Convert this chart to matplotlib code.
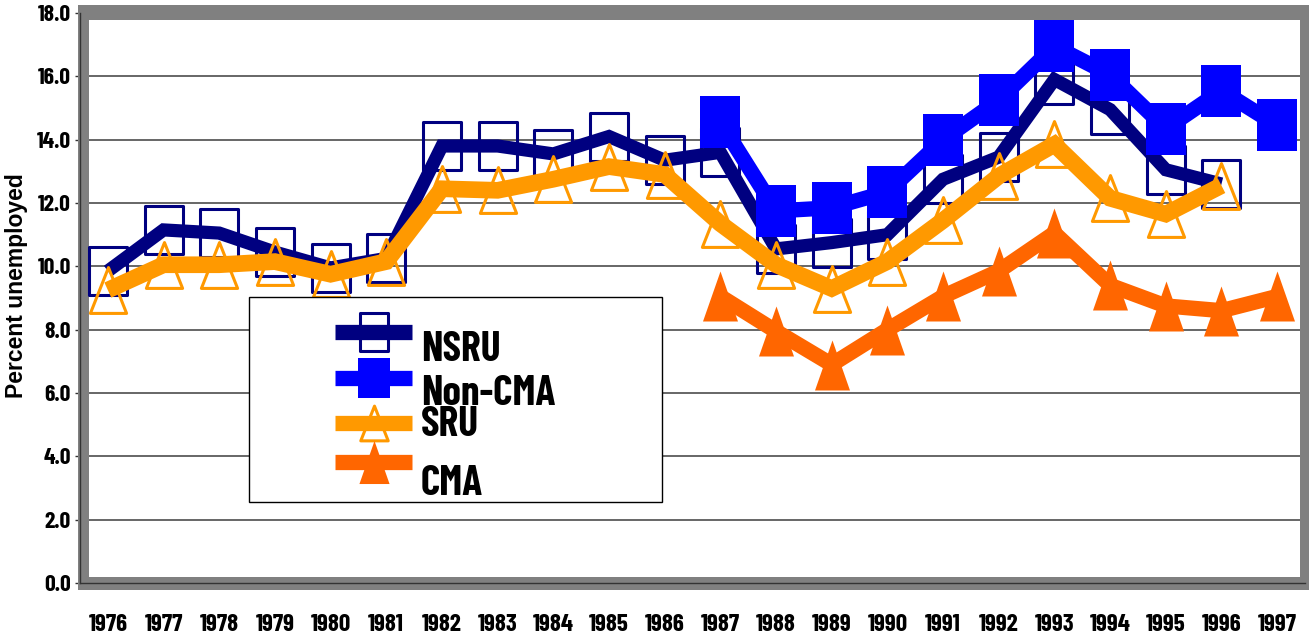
import numpy as np
import matplotlib
matplotlib.use("Agg")
import matplotlib.pyplot as plt
from matplotlib.path import Path
from matplotlib.markers import MarkerStyle
from matplotlib.patches import Rectangle
from matplotlib.lines import Line2D

# narrow bold face for all chart text; DejaVu Sans Condensed if Barlow is missing
plt.rcParams['font.family'] = ['Barlow Condensed', 'DejaVu Sans']
plt.rcParams['font.stretch'] = 'condensed'
plt.rcParams['font.weight'] = 'bold'

nan = np.nan
years = [str(y) for y in range(1976, 1998)]
nsru = [9.85, 11.15, 11.05, 10.45, 9.95, 10.25, 13.8, 13.8, 13.55, 14.1, 13.35, 13.6,
        10.55, 10.75, 11.0, 12.75, 13.45, 15.9, 14.95, 13.05, 12.6, nan]
non_cma = [nan] * 11 + [14.55, 11.75, 11.85, 12.35, 14.0, 15.25, 16.95, 16.05, 14.35, 15.55, 14.45]
sru = [9.25, 10.05, 10.05, 10.15, 9.75, 10.15, 12.45, 12.4, 12.75, 13.15, 12.9, 11.35,
       10.05, 9.3, 10.15, 11.45, 12.85, 13.85, 12.15, 11.65, 12.55, nan]
cma = [nan] * 11 + [9.05, 7.95, 6.9, 8.0, 9.05, 9.85, 11.05, 9.4, 8.75, 8.6, 9.05]

W, H = 1309, 639
def fx(x):
    return x / W
def fy(y):
    return 1 - y / H

def marker(verts):
    return MarkerStyle(Path(list(verts) + [verts[0]], closed=True), joinstyle='miter')

box = marker([(-0.77, -1), (0.77, -1), (0.77, 1), (-0.77, 1)])
tri_open = marker([(0, 1), (0.79, -1), (-0.79, -1)])
tri_full = marker([(0, 1), (0.70, -1), (-0.70, -1)])

NAVY, BLUE, GOLD, ORANGE = '#000080', '#0000FF', '#FF9900', '#FF6600'
GRAY = '#808080'

series = [
    (nsru, 'NSRU', dict(color=NAVY, lw=9.5, marker=box, ms=35, mfc='none', mec=NAVY, mew=2.2)),
    (non_cma, 'Non-CMA', dict(color=BLUE, lw=11, marker=box, ms=37, mfc=BLUE, mec=BLUE, mew=0)),
    (sru, 'SRU', dict(color=GOLD, lw=12, marker=tri_open, ms=33, mfc='none', mec=GOLD, mew=2.2)),
    (cma, 'CMA', dict(color=ORANGE, lw=11, marker=tri_full, ms=36, mfc=ORANGE, mec=ORANGE, mew=0)),
]

fig = plt.figure(figsize=(13.09, 6.39), dpi=100)
ax = fig.add_axes([fx(80), fy(583), fx(1305) - fx(80), (583 - 13) / H])

x = np.arange(len(years))
for i, (vals, name, st) in enumerate(series):
    ax.plot(x, vals, solid_joinstyle='miter', solid_capstyle='butt', zorder=3 + i, **st)

ax.set_xlim(-0.5, len(years) - 0.5)
ax.set_ylim(0, 18)
ax.set_yticks(np.arange(0, 19, 2))
ax.set_yticklabels(['%.1f' % v for v in np.arange(0, 19, 2)], fontsize=17)
ax.set_xticks(x)
ax.set_xticklabels(years, fontsize=18)
ax.set_xticks(np.arange(-0.5, len(years), 1), minor=True)
ax.tick_params(axis='x', which='major', length=0, pad=22)
ax.tick_params(axis='x', which='minor', length=4, width=1, color='#333333', direction='out')
ax.tick_params(axis='y', length=3.5, width=1, color='#333333', pad=3)
ax.set_axisbelow(True)
ax.yaxis.grid(True, color='#5a5a5a', lw=1.3)

for s in ['top', 'right']:
    ax.spines[s].set_visible(False)
for s in ['left', 'bottom']:
    ax.spines[s].set_color('#333333')
    ax.spines[s].set_linewidth(1)
    ax.spines[s].set_zorder(2.5)

# grey wall around the plot area
for (x0, y0, x1, y1) in [(78, 5, 89, 590), (78, 5, 1309, 20), (1300, 5, 1309, 590), (78, 577, 1309, 590)]:
    ax.add_artist(Rectangle((fx(x0), fy(y1)), fx(x1) - fx(x0), (y1 - y0) / H,
                            transform=fig.transFigure, facecolor=GRAY, edgecolor='none',
                            clip_on=False, zorder=1))

fig.text(fx(16.5), fy(286), 'Percent unemployed', rotation=90, ha='center', va='center',
         fontsize=16.5, fontweight='bold', fontstretch='normal',
         family=['Liberation Sans', 'DejaVu Sans'])

# legend box
fig.add_artist(Rectangle((fx(249), fy(502)), fx(662) - fx(249), (502 - 297) / H,
                         transform=fig.transFigure, facecolor='white', edgecolor='black',
                         lw=1, zorder=2))
key_y = [332, 378, 423, 462]
text_y = [361, 405, 436, 495]
key_ms = [27, 29, 25, 31]
for (vals, name, st), ky, ty, kms in zip(series, key_y, text_y, key_ms):
    fig.add_artist(Line2D([fx(335), fx(412)], [fy(ky)] * 2, transform=fig.transFigure,
                          color=st['color'], lw=11, solid_capstyle='butt', zorder=3))
    fig.add_artist(Line2D([fx(373.5)], [fy(ky)], transform=fig.transFigure, ls='none',
                          marker=st['marker'], ms=kms, mfc=st['mfc'], mec=st['mec'],
                          mew=st['mew'], zorder=4))
    fig.text(fx(421), fy(ty), name, fontsize=30, va='baseline', ha='left', zorder=5)

fig.savefig('out.png', dpi=100)
